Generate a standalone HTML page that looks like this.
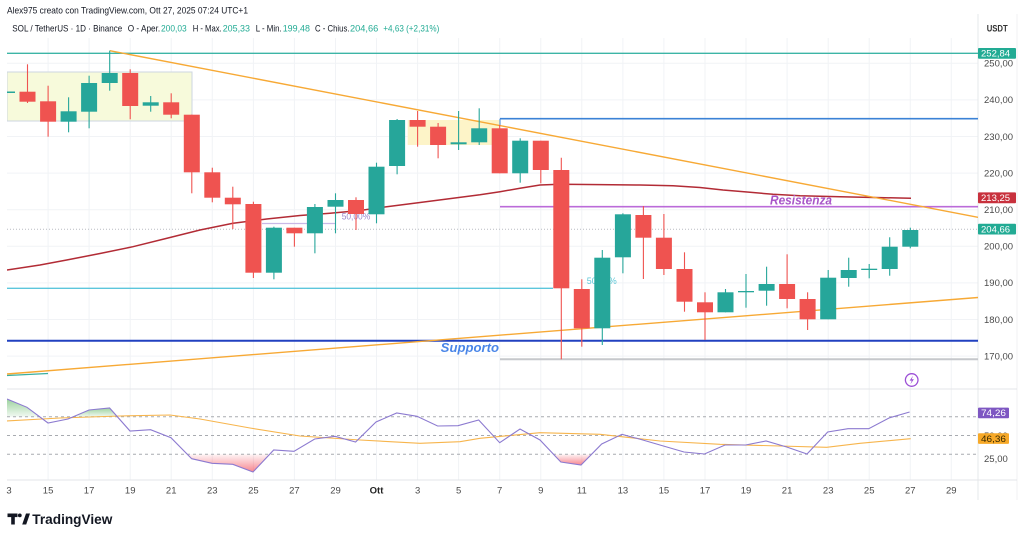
<!DOCTYPE html>
<html><head><meta charset="utf-8"><style>
html,body{margin:0;padding:0;background:#fff;width:1024px;height:539px;overflow:hidden}
svg{display:block;font-family:"Liberation Sans",sans-serif}
</style></head><body>
<svg width="1024" height="539" viewBox="0 0 1024 539" xmlns="http://www.w3.org/2000/svg">
<defs>
<linearGradient id="gg" x1="0" y1="0" x2="0" y2="1"><stop offset="0" stop-color="#4caf50" stop-opacity="0.55"/><stop offset="1" stop-color="#4caf50" stop-opacity="0.08"/></linearGradient>
<linearGradient id="rg" x1="0" y1="0" x2="0" y2="1"><stop offset="0" stop-color="#f23645" stop-opacity="0.05"/><stop offset="1" stop-color="#f23645" stop-opacity="0.6"/></linearGradient>
<clipPath id="plot"><rect x="7" y="38" width="971" height="351"/></clipPath>
<clipPath id="rsi"><rect x="7" y="390" width="971" height="90"/></clipPath>
</defs>
<rect width="1024" height="539" fill="#fff"/>

<!-- header -->
<text x="7" y="13.5" font-size="9.5" fill="#131722" textLength="241" lengthAdjust="spacingAndGlyphs">Alex975 creato con TradingView.com, Ott 27, 2025 07:24 UTC+1</text>
<g font-size="9.5">
<text x="12.3" y="31.5" fill="#131722" textLength="110" lengthAdjust="spacingAndGlyphs">SOL / TetherUS · 1D · Binance</text>
<text x="127.7" y="31.5" fill="#131722" textLength="32.5" lengthAdjust="spacingAndGlyphs">O - Aper.</text>
<text x="161" y="31.5" fill="#22ab94" textLength="25.7" lengthAdjust="spacingAndGlyphs">200,03</text>
<text x="192.7" y="31.5" fill="#131722" textLength="29" lengthAdjust="spacingAndGlyphs">H - Max.</text>
<text x="222.7" y="31.5" fill="#22ab94" textLength="27.3" lengthAdjust="spacingAndGlyphs">205,33</text>
<text x="255.7" y="31.5" fill="#131722" textLength="26" lengthAdjust="spacingAndGlyphs">L - Min.</text>
<text x="282.7" y="31.5" fill="#22ab94" textLength="27.3" lengthAdjust="spacingAndGlyphs">199,48</text>
<text x="315" y="31.5" fill="#131722" textLength="34.5" lengthAdjust="spacingAndGlyphs">C - Chius.</text>
<text x="350" y="31.5" fill="#22ab94" textLength="28.3" lengthAdjust="spacingAndGlyphs">204,66</text>
<text x="383.3" y="31.5" fill="#22ab94" textLength="56" lengthAdjust="spacingAndGlyphs">+4,63 (+2,31%)</text>
</g>

<!-- grid -->
<g stroke="#f1f3f6" stroke-width="1">
<line x1="48.1" y1="38" x2="48.1" y2="480"/><line x1="89.1" y1="38" x2="89.1" y2="480"/><line x1="130.2" y1="38" x2="130.2" y2="480"/><line x1="171.2" y1="38" x2="171.2" y2="480"/><line x1="212.3" y1="38" x2="212.3" y2="480"/><line x1="253.4" y1="38" x2="253.4" y2="480"/><line x1="294.4" y1="38" x2="294.4" y2="480"/><line x1="335.5" y1="38" x2="335.5" y2="480"/><line x1="376.5" y1="38" x2="376.5" y2="480"/><line x1="417.6" y1="38" x2="417.6" y2="480"/><line x1="458.6" y1="38" x2="458.6" y2="480"/><line x1="499.7" y1="38" x2="499.7" y2="480"/><line x1="540.8" y1="38" x2="540.8" y2="480"/><line x1="581.8" y1="38" x2="581.8" y2="480"/><line x1="622.9" y1="38" x2="622.9" y2="480"/><line x1="663.9" y1="38" x2="663.9" y2="480"/><line x1="705" y1="38" x2="705" y2="480"/><line x1="746" y1="38" x2="746" y2="480"/><line x1="787.1" y1="38" x2="787.1" y2="480"/><line x1="828.2" y1="38" x2="828.2" y2="480"/><line x1="869.2" y1="38" x2="869.2" y2="480"/><line x1="910.3" y1="38" x2="910.3" y2="480"/><line x1="951.3" y1="38" x2="951.3" y2="480"/>
<line x1="7" y1="63.3" x2="978" y2="63.3"/><line x1="7" y1="99.9" x2="978" y2="99.9"/><line x1="7" y1="136.5" x2="978" y2="136.5"/><line x1="7" y1="173.1" x2="978" y2="173.1"/><line x1="7" y1="209.7" x2="978" y2="209.7"/><line x1="7" y1="246.3" x2="978" y2="246.3"/><line x1="7" y1="282.9" x2="978" y2="282.9"/><line x1="7" y1="319.5" x2="978" y2="319.5"/><line x1="7" y1="356.1" x2="978" y2="356.1"/>
</g>
<!-- pane borders -->
<line x1="978" y1="14" x2="978" y2="500" stroke="#e6e8eb" stroke-width="1"/>
<line x1="1017" y1="14" x2="1017" y2="500" stroke="#f0f1f3" stroke-width="1"/>
<line x1="7" y1="389" x2="1017" y2="389" stroke="#e3e5e8" stroke-width="1"/>
<line x1="7" y1="480" x2="1017" y2="480" stroke="#e3e5e8" stroke-width="1"/>

<g clip-path="url(#plot)">
<!-- boxes -->
<rect x="7" y="72" width="185" height="49" fill="#f7fadb" stroke="#cdd6e0" stroke-width="1"/>
<rect x="407.7" y="120" width="92.3" height="25" fill="#fdf4c8"/>
<!-- current price dotted -->
<line x1="7" y1="229.3" x2="978" y2="229.3" stroke="#b9bcc2" stroke-width="1" stroke-dasharray="1,2"/>
<!-- horizontal levels -->
<line x1="7" y1="53.3" x2="978" y2="53.3" stroke="#3db5a6" stroke-width="1.4"/>
<line x1="500" y1="118.7" x2="978" y2="118.7" stroke="#3b82d6" stroke-width="1.6"/>
<line x1="500" y1="118.7" x2="500" y2="125" stroke="#3b82d6" stroke-width="1"/>
<line x1="500" y1="206.7" x2="978" y2="206.7" stroke="#bb6bd9" stroke-width="1.6"/>
<line x1="7" y1="288.3" x2="553" y2="288.3" stroke="#5cc6dc" stroke-width="1.3"/>
<line x1="262" y1="223.5" x2="335" y2="223.5" stroke="#c9b8e6" stroke-width="1.2"/>
<line x1="7" y1="340.7" x2="978" y2="340.7" stroke="#2141c0" stroke-width="2"/>
<line x1="500" y1="359.3" x2="978" y2="359.3" stroke="#c6c8cc" stroke-width="2"/>
<line x1="7" y1="375.5" x2="48" y2="373.5" stroke="#3aaea0" stroke-width="1.3"/>
<!-- fib labels -->
<text x="341.7" y="219.5" font-size="9.5" fill="#9a86cc" textLength="28.5" lengthAdjust="spacingAndGlyphs">50,00%</text>
<text x="586.7" y="284.2" font-size="9.5" fill="#5fc8d8" textLength="30" lengthAdjust="spacingAndGlyphs">50,00%</text>
<!-- MA -->
<polyline fill="none" stroke="#b22b35" stroke-width="1.5" points="7,270 40,265 66.7,260 100,253.5 133,246.7 166,238.5 200,230 233,223.3 266.7,219 300,215.5 330,213.3 360,210.5 386.7,206.7 420,202.5 453,198.3 480,194.8 500,191.7 520,188.3 540,185 560,184.3 600,184.6 640,185 673,185.7 700,187.5 723,190 750,192.3 773,194.3 800,195.8 840,196.7 880,197.6 911,198.3"/>
<!-- trend lines -->
<line x1="109.7" y1="50.7" x2="978" y2="217.3" stroke="#f7a935" stroke-width="1.4"/>
<line x1="7" y1="374" x2="978" y2="297.5" stroke="#f7a935" stroke-width="1.4"/>
<!-- candles -->
<g id="candles"></g>
</g>

<!-- text labels over chart -->
<text x="770" y="204.5" font-size="12.5" font-weight="bold" font-style="italic" fill="#a855c8" textLength="62" lengthAdjust="spacingAndGlyphs">Resistenza</text>
<text x="440.7" y="352" font-size="13" font-weight="bold" font-style="italic" fill="#4a86e8" textLength="58.3" lengthAdjust="spacingAndGlyphs">Supporto</text>

<!-- lightning icon -->
<circle cx="911.7" cy="380" r="6.3" fill="#fff" stroke="#9c4fd6" stroke-width="1.3"/>
<path d="M913 375.8 L909.6 380.6 L911.8 380.6 L910.4 384.2 L913.9 379.3 L911.7 379.3 Z" fill="#9c4fd6"/>

<!-- RSI pane -->
<g clip-path="url(#rsi)">
<polygon points="7,416.7 7,399 27,407.3 39.6,416.7" fill="url(#gg)"/>
<polygon points="73.4,416.7 89,410 109.6,408 117.3,416.7" fill="url(#gg)"/>
<polygon points="187.4,454.3 191.7,458.7 212,463.3 232.8,464.3 253,472 269.7,454.3" fill="url(#rg)"/>
<polygon points="553.5,454.3 560.8,462 581,465 591.5,454.3" fill="url(#rg)"/>
<g stroke="#a8abb0" stroke-width="1" stroke-dasharray="3,3">
<line x1="7" y1="416.7" x2="978" y2="416.7"/>
<line x1="7" y1="435.5" x2="978" y2="435.5"/>
<line x1="7" y1="454.3" x2="978" y2="454.3"/>
</g>
<polyline fill="none" stroke="#f7b54d" stroke-width="1.1" points="6.7,421 60,418 120,416 170,415 200,419 250,428 300,436 360,440 420,443.3 460,441.7 480,438.3 540,432.7 600,434.3 660,441 720,444.3 780,446 826.7,447.3 860,443.3 910.7,438.7"/>
<polyline fill="none" stroke="#8c7ad0" stroke-width="1.1" points="7,399 27,407.3 48,423 68,419 89,410 109.6,408 130,431 150.6,429.7 171,437.7 191.7,458.7 212,463.3 232.8,464.3 253,472 273.7,450 294,451.3 314.7,439 335,436.3 355.6,442 376,422 396.7,413 417,416.3 437.6,426 458,425.7 478.7,420 499.7,442.7 520,429 540,440 560.8,462 581,465 601.7,444 622,434.3 642.8,440 663.4,446 684,452 704.5,454 725,445 745.6,445 766,441 786.7,447 807,454 827.7,432 848,428.7 868.7,428.7 889,418 909.6,412"/>
</g>

<!-- price axis -->
<text x="986.7" y="31.5" font-size="9" font-weight="bold" fill="#333" textLength="21" lengthAdjust="spacingAndGlyphs">USDT</text>
<g font-size="9.5" fill="#4a4a4a">
<text x="984" y="66.6">250,00</text><text x="984" y="103.2">240,00</text><text x="984" y="139.8">230,00</text><text x="984" y="176.4">220,00</text><text x="984" y="213">210,00</text><text x="984" y="249.6">200,00</text><text x="984" y="286.2">190,00</text><text x="984" y="322.8">180,00</text><text x="984" y="359.4">170,00</text>
<text x="984" y="439">50,00</text><text x="984" y="462">25,00</text>
</g>
<g font-size="9.5" fill="#fff">
<rect x="978" y="48" width="38" height="10.8" fill="#22ab94" rx="1"/><text x="981" y="56.6">252,84</text>
<rect x="978" y="192.4" width="38" height="10.8" fill="#c8313d" rx="1"/><text x="981" y="201">213,25</text>
<rect x="978" y="223.7" width="38" height="10.8" fill="#22ab94" rx="1"/><text x="981" y="232.3">204,66</text>
<rect x="978" y="407.6" width="31" height="10.6" fill="#7e57c2" rx="1"/><text x="981" y="416.1" textLength="25" lengthAdjust="spacingAndGlyphs">74,26</text>
<rect x="978" y="433.3" width="31" height="10.6" fill="#f7a928" rx="1"/><text x="981" y="441.8" fill="#3a2a00" textLength="25" lengthAdjust="spacingAndGlyphs">46,36</text>
</g>

<!-- time axis -->
<g font-size="9.5" fill="#4a4a4a" text-anchor="middle">
<text x="9" y="493.5">3</text><text x="48.1" y="493.5">15</text><text x="89.1" y="493.5">17</text><text x="130.2" y="493.5">19</text><text x="171.2" y="493.5">21</text><text x="212.3" y="493.5">23</text><text x="253.4" y="493.5">25</text><text x="294.4" y="493.5">27</text><text x="335.5" y="493.5">29</text><text x="376.5" y="493.5" font-weight="bold" fill="#222">Ott</text><text x="417.6" y="493.5">3</text><text x="458.6" y="493.5">5</text><text x="499.7" y="493.5">7</text><text x="540.8" y="493.5">9</text><text x="581.8" y="493.5">11</text><text x="622.9" y="493.5">13</text><text x="663.9" y="493.5">15</text><text x="705" y="493.5">17</text><text x="746" y="493.5">19</text><text x="787.1" y="493.5">21</text><text x="828.2" y="493.5">23</text><text x="869.2" y="493.5">25</text><text x="910.3" y="493.5">27</text><text x="951.3" y="493.5">29</text>
</g>

<!-- TradingView logo -->
<g fill="#131722">
<rect x="7.5" y="513.5" width="10" height="3.6"/>
<rect x="11.2" y="513.5" width="3.6" height="11"/>
<circle cx="19.8" cy="515.4" r="1.9"/>
<polygon points="22.2,524.5 26,513.5 30,513.5 26.2,524.5"/>
</g>
<text x="32.3" y="524" font-size="14" font-weight="bold" fill="#131722" textLength="80" lengthAdjust="spacingAndGlyphs">TradingView</text>
</svg>
<script>
(function(){
var R="#ef5350",G="#26a69a";
var d=[
[7,G,91.5,93,91.5,93],
[27.5,R,91.7,101.7,64.3,103],
[48.1,R,101.3,121.7,85.7,136.7],
[68.6,G,111.3,121.7,97.3,132.3],
[89.1,G,83,111.7,75.7,128.3],
[109.7,G,73,83,50.7,90.7],
[130.2,R,73,106,69.3,119.3],
[150.7,G,102.3,105.7,96,111.7],
[171.2,R,102.3,114.7,93.3,118.3],
[191.8,R,114.7,172.3,114.7,193.3],
[212.3,R,172.3,197.7,167.7,202.3],
[232.8,R,197.7,204.3,186.7,229],
[253.4,R,204,272.7,201.7,278],
[273.9,G,227.7,272.7,226.7,279.3],
[294.4,R,227.7,233.3,227.7,246.7],
[314.9,G,207,233.3,204,253.3],
[335.5,G,200,206.7,193.3,233.3],
[356,R,200,214,197.3,230],
[376.5,G,166.7,214.3,162.7,223.3],
[397.1,G,120,166,119,174.3],
[417.6,R,120,126.7,111,146.7],
[438.1,R,126.7,145,123,158.3],
[458.6,G,142.3,144.3,111,150],
[479.2,G,128.3,142.3,108.3,145],
[499.7,R,128.3,173.3,125,173.3],
[520.2,G,140.7,173.3,138.3,182.7],
[540.8,R,140.7,170,140.7,183.3],
[561.3,R,170,288.3,157.7,359.3],
[581.8,R,289,328.3,279.3,346.7],
[602.3,G,257.7,328.3,250,345],
[622.9,G,214.3,257.3,213.3,273.3],
[643.4,R,215,237.7,206,279],
[663.9,R,237.7,269,214,275],
[684.5,R,269,301.7,252.3,311.7],
[705,R,302.3,312.3,292.3,340],
[725.5,G,292.3,312.3,289,312.3],
[746,G,291,292.3,274,307.7],
[766.6,G,284,290.7,266.7,305.7],
[787.1,R,284,299,254.3,308.3],
[807.6,R,299,319.3,292.3,330],
[828.2,G,277.7,319.3,270,319.3],
[848.7,G,270,278,257.7,286.7],
[869.2,G,268.7,270,264,278.3],
[889.7,G,246.7,269,237.3,275.7],
[910.3,G,230,246.7,227.7,248.3]
];
var ns="http://www.w3.org/2000/svg",g=document.getElementById("candles");
d.forEach(function(c){
var l=document.createElementNS(ns,"line");
l.setAttribute("x1",c[0]);l.setAttribute("x2",c[0]);l.setAttribute("y1",c[4]);l.setAttribute("y2",c[5]);
l.setAttribute("stroke",c[1]);l.setAttribute("stroke-width","1.1");g.appendChild(l);
var r=document.createElementNS(ns,"rect");
r.setAttribute("x",c[0]-8);r.setAttribute("y",c[2]);r.setAttribute("width",16);r.setAttribute("height",Math.max(1.2,c[3]-c[2]));
r.setAttribute("fill",c[1]);g.appendChild(r);
});
})();
</script>
</body></html>
